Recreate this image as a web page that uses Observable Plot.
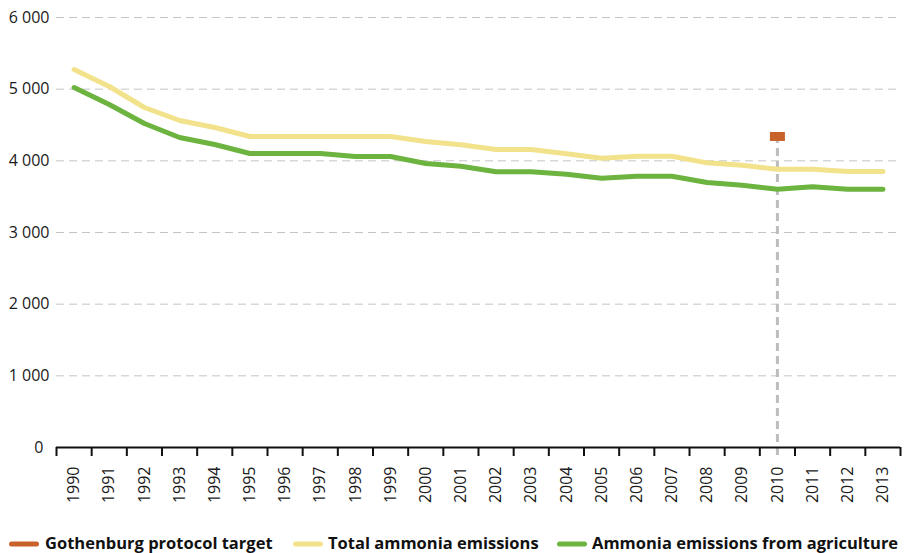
<!DOCTYPE html>
<html>
<head>
<meta charset="utf-8">
<script src="https://cdn.jsdelivr.net/npm/d3@7"></script>
<script src="https://cdn.jsdelivr.net/npm/@observablehq/plot@0.6"></script>
<style>
  html, body { margin: 0; padding: 0; background: #fff; }
  #chart svg { display: block; }
  #legend { display: block; }
</style>
</head>
<body>
<div id="chart"></div>
<svg id="legend" width="907" height="33"></svg>
<script>
const years = [1990,1991,1992,1993,1994,1995,1996,1997,1998,1999,2000,2001,2002,2003,2004,2005,2006,2007,2008,2009,2010,2011,2012,2013];
const totalEmissions = [5274,5037,4744,4563,4465,4339,4339,4339,4339,4339,4270,4224,4158,4158,4098,4037,4065,4065,3972,3939,3883,3883,3851,3851];
const agricultureEmissions = [5023,4786,4521,4325,4228,4102,4102,4102,4060,4060,3963,3925,3847,3847,3813,3757,3785,3785,3697,3660,3604,3637,3604,3604];
const targetYear = [2010];
const targetValue = [4340];
const yTicks = [0,1000,2000,3000,4000,5000,6000];
const seriesNames = ["Gothenburg protocol target", "Total ammonia emissions", "Ammonia emissions from agriculture"];
const seriesColors = ["#c8622a", "#f2e28c", "#6cb33f"];

const total = years.map((year, i) => ({year, value: totalEmissions[i]}));
const agri = years.map((year, i) => ({year, value: agricultureEmissions[i]}));
const target = targetYear.map((year, i) => ({year, value: targetValue[i]}));
const boundaries = [...years.map(y => y - 0.5), years[years.length - 1] + 0.5];

const fmt = d3.formatLocale({decimal: ".", thousands: " ", grouping: [3], currency: ["", ""]}).format(",");

const rectSymbol = {
  draw(context, size) {
    const w = 7.5, h = 4.5;
    context.rect(-w, -h, 2 * w, 2 * h);
  }
};

const plot = Plot.plot({
  width: 907,
  height: 520,
  marginTop: 17,
  marginBottom: 73,
  marginLeft: 56,
  marginRight: 7,
  style: {fontFamily: "'Open Sans', sans-serif", color: "#1a1a1a", background: "#fff"},
  x: {type: "linear", domain: [years[0] - 0.5, years[years.length - 1] + 0.5]},
  y: {domain: [0, 6000]},
  marks: [
    Plot.gridY(yTicks.filter(d => d > 0), {stroke: "#c4c4c4", strokeOpacity: 1, strokeDasharray: "8,5", strokeWidth: 1}),
    Plot.axisY(yTicks.filter(d => d > 0), {tickSize: 0, tickPadding: 7, tickFormat: fmt, fontSize: 16, label: null}),
    Plot.axisY(yTicks.filter(d => d === 0), {tickSize: 0, tickPadding: 13, tickFormat: fmt, fontSize: 16, label: null}),
    Plot.axisX(boundaries, {tickSize: 9, strokeWidth: 2, stroke: "#111", tickFormat: () => "", label: null}),
    Plot.axisX(years, {tickSize: 0, tickPadding: 19, tickRotate: -90, tickFormat: d => String(d), fontSize: 16, label: null}),
    Plot.ruleX(target, {x: "year", y1: 0, y2: "value", stroke: "#bdbdbd", strokeWidth: 3, strokeDasharray: "8,5", insetTop: 8}),
    Plot.ruleY([0], {stroke: "#111", strokeWidth: 2}),
    Plot.line(total, {x: "year", y: "value", stroke: seriesColors[1], strokeWidth: 5, strokeLinecap: "round", strokeLinejoin: "round"}),
    Plot.line(agri, {x: "year", y: "value", stroke: seriesColors[2], strokeWidth: 5, strokeLinecap: "round", strokeLinejoin: "round"}),
    Plot.dot(target, {x: "year", y: "value", symbol: rectSymbol, fill: seriesColors[0], stroke: "none", r: 5})
  ]
});
document.getElementById("chart").appendChild(plot);

// legend
const legendItems = [
  {name: seriesNames[0], color: seriesColors[0], sx: 9, tx: 45},
  {name: seriesNames[1], color: seriesColors[1], sx: 293, tx: 328},
  {name: seriesNames[2], color: seriesColors[2], sx: 557, tx: 592}
];
const lg = d3.select("#legend");
const cy = 23;
legendItems.forEach(it => {
  lg.append("line").attr("x1", it.sx + 2.5).attr("x2", it.sx + 27.5).attr("y1", cy + 1).attr("y2", cy + 1)
    .attr("stroke", it.color).attr("stroke-width", 5).attr("stroke-linecap", "round");
  lg.append("text").attr("x", it.tx).attr("y", cy).attr("dy", "0.35em")
    .attr("font-family", "'Open Sans', sans-serif")
    .attr("font-weight", "bold").attr("font-size", 16.5).attr("fill", "#111")
    .text(it.name);
});
</script>
</body>
</html>
